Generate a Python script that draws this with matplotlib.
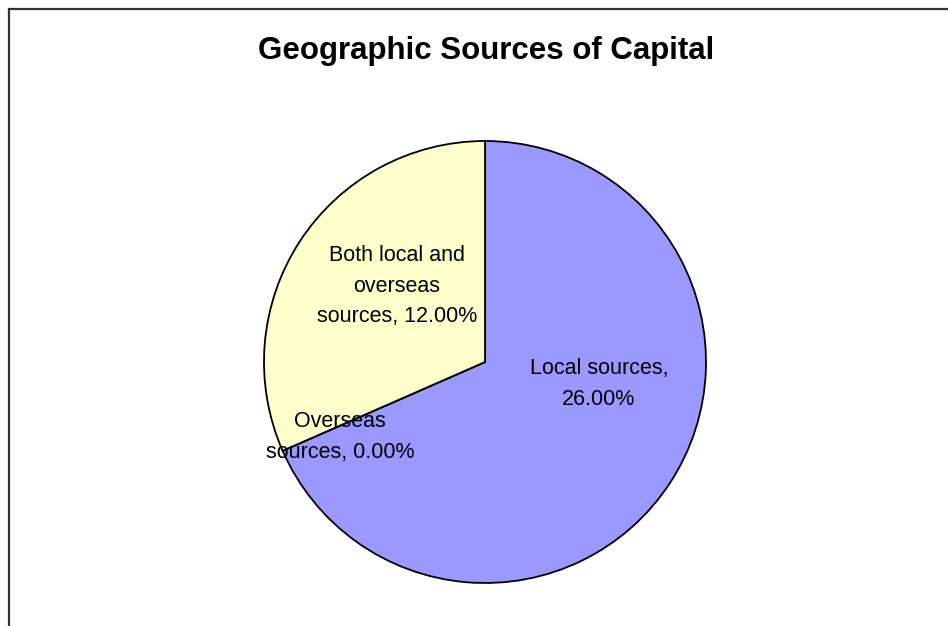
import matplotlib
matplotlib.use('Agg')
import matplotlib.pyplot as plt
from matplotlib.lines import Line2D

# Data
categories = ['Local sources', 'Overseas sources', 'Both local and overseas sources']
values = [26.0, 0.0, 12.0]
colors = ['#9999FF', '#FFFFCC', '#FFFFCC']

# label text wrapped the way the chart shows it
label_text = [
    f'Local sources,\n{values[0]:.2f}%',
    f'Overseas\nsources, {values[1]:.2f}%',
    f'Both local and\noverseas\nsources, {values[2]:.2f}%',
]
label_pos = [(599, 384), (340, 437), (397, 286)]

plt.rcParams['font.family'] = ['Liberation Sans', 'DejaVu Sans']

W, H = 948, 626
fig = plt.figure(figsize=(W / 100, H / 100), dpi=100)
ax = fig.add_axes([0, 0, 1, 1])

# pie in pixel units, y measured from the bottom
ax.pie(values, colors=colors, startangle=90, counterclock=False,
       center=(485, H - 362), radius=221, frame=True,
       wedgeprops=dict(edgecolor='black', linewidth=1.3))
ax.set_xlim(0, W)
ax.set_ylim(0, H)
ax.set_aspect('equal')
ax.axis('off')

for txt, (x, y) in zip(label_text, label_pos):
    ax.text(x, H - y, txt, ha='center', va='center', fontsize=15.5,
            linespacing=1.6, color='black')

ax.text(486, H - 51, 'Geographic Sources of Capital', ha='center', va='center',
        fontsize=22.5, fontweight='bold', color='black')

# chart area border
fig.add_artist(Line2D([9 / W, 1], [1 - 9 / H, 1 - 9 / H], color='#333333', lw=1.6))
fig.add_artist(Line2D([9 / W, 9 / W], [0, 1 - 9 / H], color='#333333', lw=1.6))

fig.savefig('out.png', dpi=100)
